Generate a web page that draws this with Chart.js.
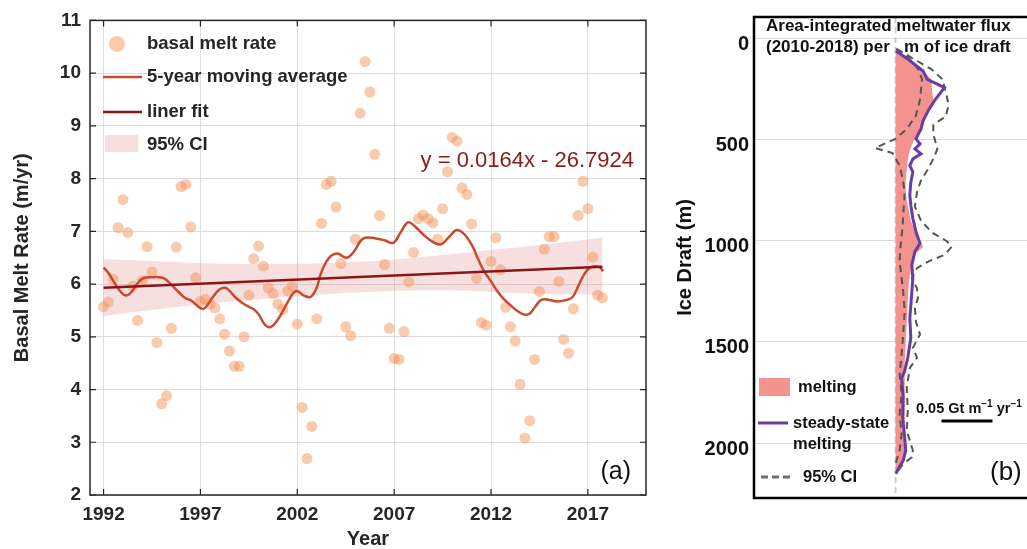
<!DOCTYPE html>
<html>
<head>
<meta charset="utf-8">
<script src="https://cdn.jsdelivr.net/npm/chart.js@4.4.1/dist/chart.umd.min.js"></script>
<style>
  html, body { margin: 0; padding: 0; background: #fff; overflow: hidden; }
  #wrap { position: relative; width: 1027px; height: 549px; overflow: hidden; }
  #meltChart { position: absolute; left: 0; top: 0; }
  #draftChart { position: absolute; left: 660px; top: 0; }
</style>
</head>
<body>
<div id="wrap">
  <canvas id="meltChart" width="660" height="549"></canvas>
  <canvas id="draftChart" width="400" height="549"></canvas>
</div>
<script>
const FONT = '"Liberation Sans", Arial, Helvetica, sans-serif';
Chart.defaults.font.family = FONT;
Chart.defaults.color = "#262626";

// ---------- panel (a): basal melt rate ----------
const years = [1992, 1993, 1994, 1995, 1996, 1997, 1998, 1999, 2000, 2001, 2002, 2003, 2004,
  2005, 2006, 2007, 2008, 2009, 2010, 2011, 2012, 2013, 2014, 2015, 2016, 2017];
// one row per year, four quarterly values
const meltRate = [
  [5.57, 5.66, 6.09, 7.07],
  [7.60, 6.98, 5.96, 5.31],
  [6.07, 6.71, 6.23, 4.89],
  [3.73, 3.88, 5.16, 6.70],
  [7.85, 7.89, 7.08, 6.12],
  [5.67, 5.71, 5.62, 5.55],
  [5.34, 5.05, 4.73, 4.44],
  [4.44, 5.00, 5.79, 6.48],
  [6.72, 6.34, 5.93, 5.82],
  [5.62, 5.52, 5.87, 5.96],
  [5.24, 3.66, 2.69, 3.30],
  [5.34, 7.15, 7.89, 7.95],
  [7.46, 6.39, 5.19, 5.02],
  [6.85, 9.24, 10.22, 9.64],
  [8.46, 7.30, 6.37, 5.16],
  [4.59, 4.57, 5.10, 6.04],
  [6.60, 7.24, 7.31, 7.24],
  [7.16, 6.85, 7.43, 8.13],
  [8.78, 8.71, 7.82, 7.70],
  [7.14, 6.11, 5.27, 5.22],
  [6.43, 6.88, 6.27, 5.56],
  [5.19, 4.92, 4.10, 3.08],
  [3.41, 4.57, 5.86, 6.66],
  [6.90, 6.90, 6.05, 4.95],
  [4.69, 5.53, 7.30, 7.95],
  [7.43, 6.51, 5.79, 5.74],
];

const maYears = [1992.0, 1992.25, 1992.6, 1993.0, 1993.25, 1993.5, 1993.77, 1994.05, 1994.5, 1995.05,
  1995.3, 1995.6, 1995.9, 1996.2, 1996.55, 1996.9, 1997.15, 1997.4, 1997.67, 1998.0,
  1998.27, 1998.5, 1998.8, 1999.2, 1999.5, 1999.75, 2000.0, 2000.35, 2000.65, 2001.0,
  2001.3, 2001.6, 2001.85, 2002.05, 2002.35, 2002.7, 2003.0, 2003.2, 2003.6, 2004.05,
  2004.55, 2004.95, 2005.25, 2005.5, 2006.0, 2006.5, 2006.95, 2007.35, 2007.72, 2008.05,
  2008.5, 2008.95, 2009.4, 2009.8, 2010.2, 2010.55, 2011.0, 2011.3, 2011.6, 2012.0,
  2012.3, 2012.65, 2013.0, 2013.4, 2013.75, 2014.0, 2014.3, 2014.6, 2015.0, 2015.4,
  2015.8, 2016.2, 2016.5, 2016.8, 2017.1, 2017.4, 2017.65, 2017.78];
const maValues = [6.31, 6.21, 6.0, 5.81, 5.79, 5.88, 6.02, 6.11, 6.13, 6.12,
  6.06, 5.95, 5.84, 5.74, 5.68, 5.57, 5.53, 5.62, 5.77, 5.90,
  5.93, 5.87, 5.75, 5.63, 5.57, 5.52, 5.43, 5.22, 5.19, 5.33,
  5.52, 5.72, 5.85, 5.86, 5.78, 5.76, 5.93, 6.18, 6.48, 6.58,
  6.50, 6.63, 6.81, 6.88, 6.87, 6.83, 6.78, 6.99, 7.17, 7.10,
  6.94, 6.81, 6.75, 6.88, 7.02, 6.97, 6.75, 6.50, 6.27, 6.05,
  5.88, 5.72, 5.60, 5.48, 5.42, 5.44, 5.58, 5.70, 5.70, 5.67,
  5.69, 5.75, 5.96, 6.18, 6.31, 6.34, 6.31, 6.24];

const fitYears = [1992, 2017.75];
const fitValues = [5.93, 6.33];
const fitSlope = 0.0164;
const fitIntercept = -26.7924;

const ciYears = [1992, 1995, 1998, 2001, 2005, 2008, 2011, 2014, 2017.75];
const ciUpper = [6.47, 6.43, 6.39, 6.38, 6.42, 6.50, 6.61, 6.72, 6.88];
const ciLower = [5.39, 5.53, 5.65, 5.74, 5.84, 5.88, 5.87, 5.82, 5.79];

const yearTicks = [1992, 1997, 2002, 2007, 2012, 2017];
const rateTicks = [2, 3, 4, 5, 6, 7, 8, 9, 10, 11];

// ---------- panel (b): meltwater flux per ice draft ----------
const meltDepth = [40, 60, 100, 150, 200, 266, 300, 350, 400, 450, 500, 550, 600, 650, 700, 750,
  800, 850, 900, 950, 1000, 1030, 1060, 1100, 1150, 1200, 1300, 1400, 1500, 1600, 1700, 1800,
  1900, 2000, 2050, 2100, 2150];
const meltValue = [0, 0.003, 0.012, 0.025, 0.035, 0.036, 0.037, 0.033, 0.029, 0.024, 0.018, 0.014,
  0.012, 0.011, 0.010, 0.010, 0.011, 0.013, 0.015, 0.019, 0.024, 0.027, 0.020, 0.016, 0.015,
  0.013, 0.012, 0.011, 0.010, 0.009, 0.009, 0.009, 0.009, 0.010, 0.010, 0.006, 0.001];

const steadyDepth = [60, 100, 159, 200, 241, 307, 356, 405, 446, 495, 520, 545, 569, 594, 627, 659,
  709, 774, 823, 889, 955, 1012, 1053, 1119, 1185, 1250, 1320, 1381, 1480, 1578, 1644, 1677,
  1775, 1874, 1972, 2037, 2087, 2120, 2152];
const steadyValue = [0.0003, 0.012, 0.027, 0.031, 0.048, 0.038, 0.032, 0.027, 0.025, 0.020, 0.024,
  0.019, 0.025, 0.017, 0.014, 0.017, 0.015, 0.014, 0.015, 0.017, 0.020, 0.024, 0.019, 0.016,
  0.017, 0.016, 0.015, 0.014, 0.015, 0.012, 0.009, 0.006, 0.0075, 0.007, 0.009, 0.010, 0.0075,
  0.0036, 0.0003];

const ciUpperDepth = [50, 100, 150, 200, 280, 330, 385, 425, 470, 545, 594, 643, 700, 760, 830,
  900, 960, 1000, 1029, 1069, 1102, 1135, 1185, 1234, 1283, 1332, 1400, 1463, 1529, 1578, 1628,
  1726, 1841, 1939, 2037, 2070, 2103, 2136];
const ciUpperValue = [0.001, 0.018, 0.035, 0.046, 0.050, 0.052, 0.049, 0.037, 0.037, 0.041, 0.037,
  0.032, 0.025, 0.021, 0.019, 0.025, 0.036, 0.050, 0.055, 0.048, 0.032, 0.021, 0.016, 0.021,
  0.022, 0.019, 0.020, 0.024, 0.017, 0.021, 0.014, 0.011, 0.012, 0.011, 0.017, 0.016, 0.0075,
  0.0025];

const ciLowerDepth = [50, 100, 150, 200, 300, 380, 446, 495, 540, 565, 627, 692, 758, 840, 922,
  1020, 1102, 1185, 1250, 1348, 1463, 1560, 1660, 1758, 1857, 1955, 2037, 2087, 2120];
const ciLowerValue = [0.001, 0.014, 0.022, 0.026, 0.024, 0.020, 0.011, 0.000, -0.020, -0.003, 0.004,
  0.007, 0.009, 0.008, 0.007, 0.005, 0.004, 0.006, 0.0075, 0.009, 0.0075, 0.006, 0.004, 0.006,
  0.004, 0.006, 0.004, 0.001, -0.0007];

const draftTicks = [0, 500, 1000, 1500, 2000];
const scaleBarStart = 0.045;
const scaleBarLength = 0.05;

// helpers
function pairs(xs, ys) {
  return xs.map((x, i) => ({ x: x, y: ys[i] }));
}
function depthPairs(depths, values) {
  return depths.map((d, i) => ({ x: values[i], y: d }));
}

const meltPoints = [];
years.forEach((yr, i) => {
  meltRate[i].forEach((v, q) => meltPoints.push({ x: yr + q * 0.25, y: v }));
});

// ---------- plugins ----------
const frameA = {
  id: "frameA",
  afterDraw(chart) {
    const { ctx, chartArea: a, scales } = chart;
    ctx.save();
    ctx.strokeStyle = "#262626";
    ctx.lineWidth = 1.2;
    yearTicks.forEach((t) => {
      const x = scales.x.getPixelForValue(t);
      ctx.beginPath();
      ctx.moveTo(x, a.bottom); ctx.lineTo(x, a.bottom - 6);
      ctx.moveTo(x, a.top); ctx.lineTo(x, a.top + 6);
      ctx.stroke();
    });
    rateTicks.forEach((t) => {
      const y = scales.y.getPixelForValue(t);
      ctx.beginPath();
      ctx.moveTo(a.left, y); ctx.lineTo(a.left + 6, y);
      ctx.moveTo(a.right, y); ctx.lineTo(a.right - 6, y);
      ctx.stroke();
    });
    ctx.lineWidth = 1.5;
    ctx.strokeRect(a.left, a.top, a.right - a.left, a.bottom - a.top);
    ctx.restore();
  },
};

const legendA = {
  id: "legendA",
  afterDraw(chart) {
    const ctx = chart.ctx;
    const ds = chart.data.datasets;
    const a = chart.chartArea;
    ctx.save();
    // legend keys
    ctx.fillStyle = ds[2].backgroundColor;
    ctx.beginPath();
    ctx.arc(117, 44, 8, 0, Math.PI * 2);
    ctx.fill();
    [[ds[3], 77], [ds[4], 112]].forEach(([d, y]) => {
      ctx.strokeStyle = d.borderColor;
      ctx.lineWidth = d.borderWidth;
      ctx.beginPath();
      ctx.moveTo(103, y);
      ctx.lineTo(142, y);
      ctx.stroke();
    });
    ctx.fillStyle = ds[0].backgroundColor;
    ctx.fillRect(105, 135, 33, 17);
    // legend text
    ctx.font = "bold 18.5px " + FONT;
    ctx.fillStyle = "#262626";
    ctx.textBaseline = "middle";
    [[ds[2].label, 44], [ds[3].label, 77], [ds[4].label, 112], [ds[0].label, 145]].forEach(([t, y]) => {
      ctx.fillText(t, 147, y);
    });
    // fit equation
    ctx.font = "22px " + FONT;
    ctx.fillStyle = "#8c1a1a";
    ctx.textAlign = "right";
    ctx.fillText("y = " + fitSlope + "x - " + Math.abs(fitIntercept), a.right - 12, 161);
    // panel tag
    ctx.font = "25px " + FONT;
    ctx.fillStyle = "#111";
    ctx.fillText("(a)", a.right - 15, 472);
    ctx.restore();
  },
};

const zeroLineB = {
  id: "zeroLineB",
  beforeDatasetsDraw(chart) {
    const { ctx, chartArea: a, scales } = chart;
    const x = scales.x.getPixelForValue(0);
    ctx.save();
    ctx.strokeStyle = "#cfcfcf";
    ctx.lineWidth = 2;
    ctx.setLineDash([6, 4]);
    ctx.beginPath();
    ctx.moveTo(x, a.top);
    ctx.lineTo(x, a.bottom);
    ctx.stroke();
    ctx.restore();
  },
};

function drawSup(ctx, parts, x, y) {
  parts.forEach(([text, sup]) => {
    ctx.font = sup ? "bold 10px " + FONT : "bold 14.5px " + FONT;
    ctx.fillText(text, x, sup ? y - 6 : y);
    x += ctx.measureText(text).width;
  });
}

const decorB = {
  id: "decorB",
  afterDraw(chart) {
    const { ctx, chartArea: a, scales } = chart;
    const ds = chart.data.datasets;
    ctx.save();
    // frame
    ctx.strokeStyle = "#000";
    ctx.lineWidth = 2.5;
    ctx.strokeRect(a.left, a.top, a.right - a.left, a.bottom - a.top);
    // title
    ctx.fillStyle = "#111";
    ctx.textBaseline = "middle";
    ctx.font = "bold 17px " + FONT;
    ctx.fillText("Area-integrated meltwater flux", 106, 26);
    ctx.fillText("(2010-2018) per   m of ice draft", 106, 47);
    // legend keys
    ctx.fillStyle = ds[0].backgroundColor;
    ctx.fillRect(99, 378, 31, 18);
    ctx.strokeStyle = ds[3].borderColor;
    ctx.lineWidth = 3;
    ctx.beginPath(); ctx.moveTo(98, 423); ctx.lineTo(128, 423); ctx.stroke();
    ctx.strokeStyle = "#6f6f6f";
    ctx.lineWidth = 3;
    ctx.setLineDash([7, 4]);
    ctx.beginPath(); ctx.moveTo(101, 477); ctx.lineTo(133, 477); ctx.stroke();
    ctx.setLineDash([]);
    // legend text
    ctx.fillStyle = "#111";
    ctx.font = "bold 16.5px " + FONT;
    ctx.fillText("melting", 138, 387);
    ctx.fillText("steady-state", 133, 423);
    ctx.fillText("melting", 133, 444);
    ctx.fillText("95% CI", 143, 477);
    // scale bar
    const x0 = scales.x.getPixelForValue(scaleBarStart);
    const x1 = scales.x.getPixelForValue(scaleBarStart + scaleBarLength);
    ctx.strokeStyle = "#000";
    ctx.lineWidth = 3;
    ctx.beginPath(); ctx.moveTo(x0, 421); ctx.lineTo(x1, 421); ctx.stroke();
    ctx.textBaseline = "alphabetic";
    drawSup(ctx, [["0.05 Gt m", false], ["\u22121", true], [" yr", false], ["\u22121", true]], 256, 413);
    // panel tag
    ctx.textBaseline = "middle";
    ctx.font = "26px " + FONT;
    ctx.fillText("(b)", 330, 473);
    ctx.restore();
  },
};

// ---------- chart (a) ----------
const meltChart = new Chart(document.getElementById("meltChart"), {
  type: "scatter",
  data: {
    datasets: [
      {
        type: "line",
        label: "95% CI",
        data: pairs(ciYears, ciUpper),
        borderWidth: 0,
        pointRadius: 0,
        tension: 0.4,
        fill: "+1",
        backgroundColor: "rgba(228, 150, 150, 0.3)",
        order: 4,
      },
      {
        type: "line",
        label: "95% CI lower",
        data: pairs(ciYears, ciLower),
        borderWidth: 0,
        pointRadius: 0,
        tension: 0.4,
        fill: false,
        order: 4,
      },
      {
        label: "basal melt rate",
        data: meltPoints,
        backgroundColor: "rgba(243, 150, 90, 0.5)",
        borderWidth: 0,
        pointRadius: 5.5,
        order: 3,
      },
      {
        type: "line",
        label: "5-year moving average",
        data: pairs(maYears, maValues),
        borderColor: "#c94a2c",
        borderWidth: 2.5,
        pointRadius: 0,
        tension: 0.4,
        fill: false,
        order: 2,
      },
      {
        type: "line",
        label: "liner fit",
        data: pairs(fitYears, fitValues),
        borderColor: "#8c1616",
        borderWidth: 2.5,
        pointRadius: 0,
        fill: false,
        order: 1,
      },
    ],
  },
  options: {
    responsive: false,
    animation: false,
    layout: { padding: { top: 19, right: 14, left: 0, bottom: 0 } },
    plugins: { legend: { display: false }, tooltip: { enabled: false } },
    scales: {
      x: {
        type: "linear",
        min: 1991.3,
        max: 2020,
        afterBuildTicks: (s) => { s.ticks = yearTicks.map((v) => ({ value: v })); },
        afterFit: (s) => { s.height = 54; },
        ticks: { font: { size: 19, weight: "bold" }, padding: 8, maxRotation: 0, callback: (v) => String(v) },
        grid: { color: "#dcdcdc", drawTicks: false },
        border: { display: false },
        title: { display: true, text: "Year", font: { size: 20, weight: "bold", lineHeight: 1 }, padding: { top: 0, bottom: 0 } },
      },
      y: {
        min: 2,
        max: 11,
        afterBuildTicks: (s) => { s.ticks = rateTicks.map((v) => ({ value: v })); },
        afterFit: (s) => { s.width = 90; },
        ticks: { font: { size: 19, weight: "bold" }, padding: 9 },
        grid: { color: "#dcdcdc", drawTicks: false },
        border: { display: false },
        title: { display: true, text: "Basal Melt Rate (m/yr)", font: { size: 20, weight: "bold", lineHeight: 1 }, padding: { top: 12, bottom: 0 } },
      },
    },
  },
  plugins: [frameA, legendA],
});

// ---------- chart (b) ----------
const draftChart = new Chart(document.getElementById("draftChart"), {
  type: "line",
  data: {
    datasets: [
      {
        label: "melting",
        data: depthPairs(meltDepth, meltValue),
        borderWidth: 0,
        backgroundColor: "#f4938d",
        pointRadius: 0,
        fill: "origin",
        order: 3,
      },
      {
        label: "95% CI upper",
        data: depthPairs(ciUpperDepth, ciUpperValue),
        borderColor: "#555555",
        borderWidth: 2,
        borderDash: [7, 5],
        pointRadius: 0,
        fill: false,
        order: 2,
      },
      {
        label: "95% CI lower",
        data: depthPairs(ciLowerDepth, ciLowerValue),
        borderColor: "#555555",
        borderWidth: 2,
        borderDash: [7, 5],
        pointRadius: 0,
        fill: false,
        order: 2,
      },
      {
        label: "steady-state melting",
        data: depthPairs(steadyDepth, steadyValue),
        borderColor: "#6a3da5",
        borderWidth: 3,
        pointRadius: 0,
        fill: false,
        order: 1,
      },
    ],
  },
  options: {
    indexAxis: "y",
    responsive: false,
    animation: false,
    layout: { padding: { top: 14, right: 10, left: 0, bottom: 51 } },
    plugins: { legend: { display: false }, tooltip: { enabled: false } },
    scales: {
      x: { type: "linear", min: -0.1386, max: 0.1513, display: false },
      y: {
        type: "linear",
        reverse: true,
        min: -108,
        max: 2272,
        afterBuildTicks: (s) => { s.ticks = draftTicks.map((v) => ({ value: v })); },
        afterFit: (s) => { s.width = 94; },
        ticks: { font: { size: 20, weight: "bold" }, padding: 5, labelOffset: 6, color: "#111", callback: (v) => String(v) },
        grid: { color: "#dcdcdc", drawTicks: false },
        border: { display: false },
        title: { display: true, text: "Ice Draft (m)", color: "#111", font: { size: 20, weight: "bold", lineHeight: 1 }, padding: { top: 15, bottom: 0 } },
      },
    },
  },
  plugins: [zeroLineB, decorB],
});
</script>
</body>
</html>
